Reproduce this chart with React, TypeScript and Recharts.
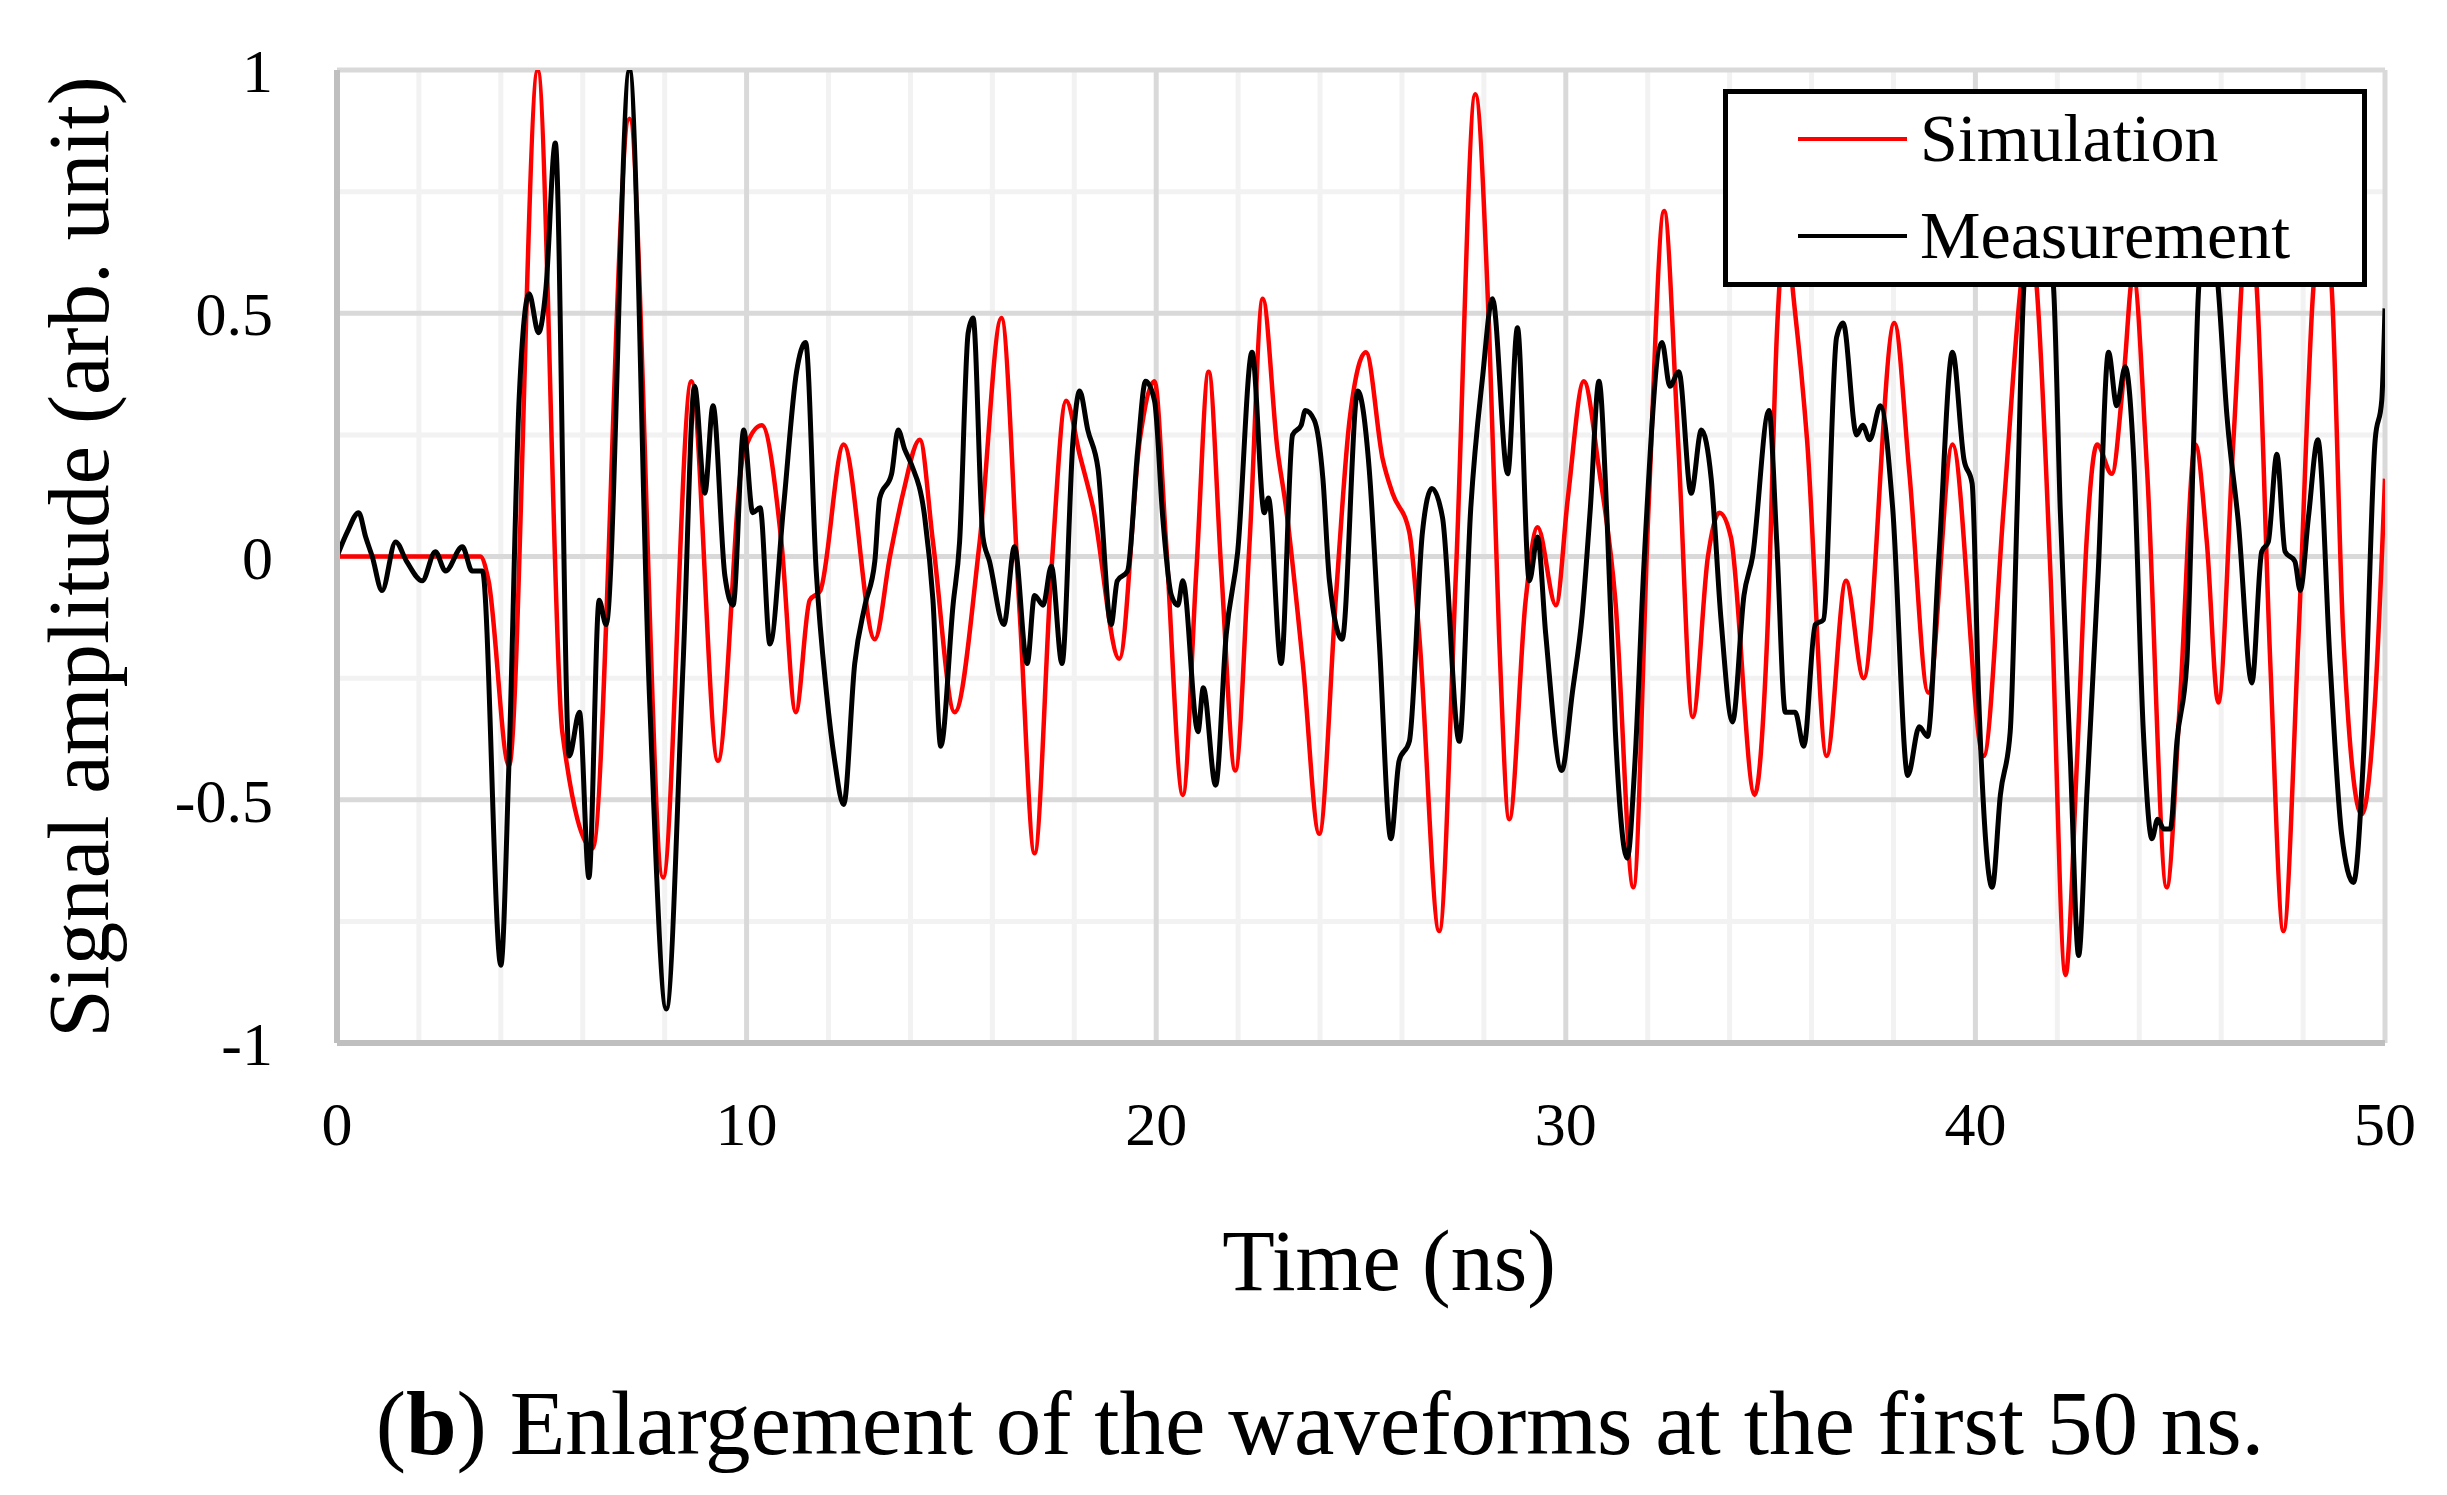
import { LineChart, Line, XAxis, YAxis, CartesianGrid } from "recharts";

// time samples (ns) and amplitudes, per series
const simTime = [
  0, 1, 2, 3, 3.5, 3.7, 4.2, 4.9, 5.5, 6.24, 7.14, 7.96, 8.65, 9.3, 9.92,
  10.37, 10.85, 11.2, 11.54, 11.8, 12.37, 13.13, 13.5, 13.82, 14.23, 14.55, 15.08, 15.69, 16.22, 16.67, 17.03, 17.44, 17.8, 18.13, 18.46, 19.1, 19.6, 19.96,
  20.24, 20.65, 20.98, 21.28, 21.59, 21.93, 22.28, 22.6, 22.96, 23.17, 23.58, 23.98, 24.39, 24.72, 25.12, 25.53, 25.77, 26.18, 26.42, 26.91, 27.32, 27.79, 28.13, 28.37, 28.62, 29.02, 29.31, 29.76,
  30.05, 30.44, 30.81, 31.21, 31.65, 32.02, 32.4, 32.74, 33.1, 33.47, 33.75, 34.03, 34.61, 34.92, 35.16, 35.35, 35.6, 35.89, 36.37, 36.84, 37.27, 38.02, 38.39, 38.85, 39.44,
  40.2, 40.69, 41.1, 41.3, 41.5, 41.83, 42.2, 42.48, 42.72, 42.97, 43.33, 43.62, 43.85, 44.19, 44.67, 45.0, 45.37, 45.65, 45.93, 46.3, 46.66, 46.87, 47.2, 47.52, 47.89, 48.25, 48.48, 48.7, 48.98, 49.43, 49.76, 50,
];
const simAmp = [
  0, 0, 0, 0, 0, -0.05, -0.43, 1.0, -0.36, -0.6, 0.9, -0.66, 0.36, -0.42, 0.21,
  0.27, 0.03, -0.32, -0.09, -0.07, 0.23, -0.17, 0.0, 0.13, 0.24, 0.03, -0.32, 0.03, 0.49, -0.12, -0.61, -0.03, 0.32, 0.21, 0.1, -0.21, 0.24, 0.36,
  0.03, -0.49, -0.03, 0.38, -0.03, -0.44, 0.03, 0.53, 0.22, 0.1, -0.22, -0.57, -0.08, 0.28, 0.42, 0.2, 0.13, 0.05, -0.16, -0.77, -0.03, 0.95, 0.46, -0.16, -0.54, -0.09, 0.06, -0.1,
  0.12, 0.36, 0.18, -0.09, -0.68, 0.1, 0.71, 0.24, -0.33, 0.0, 0.09, 0.04, -0.49, -0.16, 0.47, 0.66, 0.5, 0.24, -0.41, -0.05, -0.25, 0.48, 0.17, -0.28, 0.23,
  -0.41, 0.1, 0.55, 0.68, 0.55, -0.03, -0.86, -0.42, 0.04, 0.23, 0.17, 0.37, 0.58, 0.18, -0.68, -0.29, 0.23, 0.03, -0.3, 0.24, 0.7, 0.55, -0.22, -0.77, -0.16, 0.55, 0.7, 0.55, -0.16, -0.53, -0.29, 0.16,
];

const measTime = [
  0, 0.25, 0.53, 0.7, 0.86, 1.1, 1.43, 1.7, 2.08, 2.4, 2.65, 3.06, 3.3, 3.55, 4.0, 4.2, 4.45, 4.69, 4.92, 5.1, 5.33, 5.67, 5.92, 6.15, 6.4, 6.57, 7.14, 7.63, 8.04, 8.45, 8.73, 8.98, 9.18, 9.47, 9.67, 9.93,
  10.15, 10.33, 10.57, 10.9, 11.22, 11.44, 11.7, 11.95, 12.15, 12.37, 12.64, 12.89, 13.13, 13.25, 13.54, 13.7, 13.86, 14.02, 14.35, 14.55, 14.74, 15.04, 15.2, 15.41, 15.53, 15.77, 15.93, 16.28, 16.54, 16.85, 17.03, 17.24, 17.44, 17.7, 17.97, 18.13, 18.33, 18.58, 18.9, 19.05, 19.3, 19.55, 19.74, 19.96,
  20.16, 20.37, 20.53, 20.65, 21.02, 21.15, 21.45, 21.71, 21.99, 22.34, 22.64, 22.74, 23.05, 23.33, 23.54, 23.64, 23.86, 24.07, 24.23, 24.54, 24.92, 25.2, 25.45, 25.73, 25.93, 26.18, 26.5, 26.73, 26.99, 27.4, 27.68, 27.97, 28.21, 28.58, 28.82, 29.11, 29.31, 29.51, 29.9,
  30.16, 30.4, 30.6, 30.81, 31.01, 31.21, 31.5, 31.69, 31.9, 32.35, 32.54, 32.76, 33.06, 33.31, 33.55, 33.79, 34.07, 34.35, 34.56, 34.96, 35.15, 35.36, 35.6, 35.81, 36.09, 36.29, 36.61, 36.77, 37.1, 37.25, 37.42, 37.68, 37.98, 38.35, 38.63, 38.83, 39.11, 39.44, 39.72, 39.92,
  40.08, 40.41, 40.61, 40.85, 41.02, 41.18, 41.35, 41.55, 41.75, 41.91, 42.07, 42.32, 42.52, 42.72, 43.0, 43.25, 43.45, 43.66, 43.86, 44.1, 44.31, 44.45, 44.6, 44.76, 44.92, 45.16, 45.33, 45.45, 45.7, 45.93, 46.14, 46.42, 46.75, 46.99, 47.15, 47.36, 47.56, 47.8, 47.93, 48.13, 48.36, 48.66, 48.94, 49.23, 49.47, 49.76, 49.92, 50,
];
const measAmp = [
  0, 0.05, 0.09, 0.04, 0.0, -0.07, 0.03, -0.01, -0.05, 0.01, -0.03, 0.02, -0.03, -0.03, -0.84, -0.42, 0.33, 0.54, 0.46, 0.55, 0.85, -0.41, -0.32, -0.66, -0.09, -0.14, 1.0, -0.29, -0.93, -0.22, 0.35, 0.13, 0.31, -0.04, -0.1, 0.26,
  0.09, 0.1, -0.18, 0.1, 0.38, 0.44, -0.03, -0.28, -0.42, -0.51, -0.22, -0.1, -0.01, 0.12, 0.17, 0.26, 0.22, 0.19, 0.08, -0.09, -0.39, -0.1, 0.03, 0.46, 0.49, 0.04, -0.01, -0.14, 0.02, -0.22, -0.08, -0.1, -0.02, -0.22, 0.24, 0.34, 0.26, 0.18, -0.14, -0.05, -0.03, 0.22, 0.36, 0.32,
  0.08, -0.08, -0.1, -0.05, -0.36, -0.27, -0.47, -0.16, 0.01, 0.42, 0.09, 0.12, -0.22, 0.25, 0.27, 0.3, 0.28, 0.16, -0.05, -0.17, 0.34, 0.18, -0.18, -0.58, -0.42, -0.38, 0.05, 0.14, 0.08, -0.38, 0.1, 0.37, 0.53, 0.17, 0.47, -0.05, 0.04, -0.16, -0.44,
  -0.28, -0.12, 0.1, 0.36, 0.07, -0.36, -0.62, -0.42, -0.03, 0.44, 0.35, 0.38, 0.13, 0.26, 0.16, -0.13, -0.34, -0.08, 0.0, 0.3, 0.03, -0.32, -0.32, -0.39, -0.14, -0.13, 0.45, 0.48, 0.25, 0.27, 0.24, 0.31, 0.1, -0.45, -0.35, -0.37, 0.0, 0.42, 0.2, 0.15,
  -0.29, -0.68, -0.49, -0.36, 0.1, 0.55, 0.68, 0.62, 0.66, 0.55, 0.1, -0.42, -0.82, -0.49, -0.03, 0.42, 0.31, 0.39, 0.21, -0.36, -0.58, -0.54, -0.56, -0.56, -0.38, -0.22, 0.24, 0.55, 0.72, 0.55, 0.29, 0.07, -0.26, 0.01, 0.03, 0.21, 0.01, -0.01, -0.07, 0.08, 0.24, -0.22, -0.57, -0.67, -0.42, 0.24, 0.32, 0.51,
];

const xTicks = [0, 10, 20, 30, 40, 50];
const xMinor = [2, 4, 6, 8, 12, 14, 16, 18, 22, 24, 26, 28, 32, 34, 36, 38, 42, 44, 46, 48];
const yTicks = [-1, -0.5, 0, 0.5, 1];
const yMinor = [-0.75, -0.25, 0.25, 0.75];

const simulation = simTime.map((t, i) => ({ t, v: simAmp[i] }));
const measurement = measTime.map((t, i) => ({ t, v: measAmp[i] }));

const FONT = "'Liberation Serif', 'Times New Roman', serif";
const tickStyle = { fontFamily: FONT, fontSize: 62, fill: "#000" };

function LegendBox() {
  const rows = [
    { name: "Simulation", color: "#ff0000", y: 45 },
    { name: "Measurement", color: "#000000", y: 142 },
  ];
  return (
    <div
      style={{
        position: "absolute",
        left: 1723,
        top: 89,
        width: 644,
        height: 198,
        border: "5px solid #000",
        background: "#fff",
        boxSizing: "border-box",
      }}
    >
      {rows.map((r) => (
        <div key={r.name}>
          <div
            style={{
              position: "absolute",
              left: 70,
              top: r.y - 2,
              width: 109,
              height: 4,
              background: r.color,
            }}
          />
          <div
            style={{
              position: "absolute",
              left: 192,
              top: r.y,
              transform: "translateY(-52%)",
              fontFamily: FONT,
              fontSize: 68,
              lineHeight: 1,
              whiteSpace: "nowrap",
            }}
          >
            {r.name}
          </div>
        </div>
      ))}
    </div>
  );
}

export default function App() {
  return (
    <div
      style={{
        position: "absolute",
        left: 0,
        top: 0,
        width: 2447,
        height: 1495,
        background: "#fff",
        fontFamily: FONT,
      }}
    >
      <LineChart
        width={2447}
        height={1495}
        margin={{ top: 70, right: 62, bottom: 352, left: 217 }}
      >
        <CartesianGrid
          horizontalValues={yMinor}
          verticalValues={xMinor}
          stroke="#f2f2f2"
          strokeWidth={5}
        />
        <CartesianGrid
          horizontalValues={yTicks}
          verticalValues={xTicks}
          stroke="#d9d9d9"
          strokeWidth={5}
        />
        <XAxis
          type="number"
          dataKey="t"
          domain={[0, 50]}
          ticks={xTicks}
          interval={0}
          allowDataOverflow
          height={100}
          tickLine={false}
          tickSize={0}
          tickMargin={58}
          axisLine={{ stroke: "#bfbfbf", strokeWidth: 6 }}
          tick={tickStyle}
        />
        <YAxis
          type="number"
          domain={[-1, 1]}
          ticks={yTicks}
          interval={0}
          allowDataOverflow
          width={120}
          tickLine={false}
          tickSize={0}
          tickMargin={64}
          axisLine={{ stroke: "#bfbfbf", strokeWidth: 6 }}
          tick={tickStyle}
          tickFormatter={(v: number) => String(v)}
        />
        <Line
          data={simulation}
          dataKey="v"
          name="Simulation"
          type="monotone"
          stroke="#ff0000"
          strokeWidth={4.5}
          dot={false}
          activeDot={false}
          isAnimationActive={false}
        />
        <Line
          data={measurement}
          dataKey="v"
          name="Measurement"
          type="monotone"
          stroke="#000000"
          strokeWidth={5}
          dot={false}
          activeDot={false}
          isAnimationActive={false}
        />
      </LineChart>

      <LegendBox />

      <div
        style={{
          position: "absolute",
          left: 78,
          top: 557,
          transform: "translate(-50%, -50%) rotate(-90deg)",
          fontSize: 87,
          lineHeight: 1,
          whiteSpace: "nowrap",
        }}
      >
        Signal amplitude (arb. unit)
      </div>
      <div
        style={{
          position: "absolute",
          left: 1389,
          top: 1261,
          transform: "translate(-50%, -50%)",
          fontSize: 86,
          lineHeight: 1,
          whiteSpace: "nowrap",
        }}
      >
        Time (ns)
      </div>
      <div
        style={{
          position: "absolute",
          left: 1320,
          top: 1423,
          transform: "translate(-50%, -50%)",
          fontSize: 91,
          lineHeight: 1,
          whiteSpace: "nowrap",
        }}
      >
        (<b>b</b>) Enlargement of the waveforms at the first 50 ns.
      </div>
    </div>
  );
}
